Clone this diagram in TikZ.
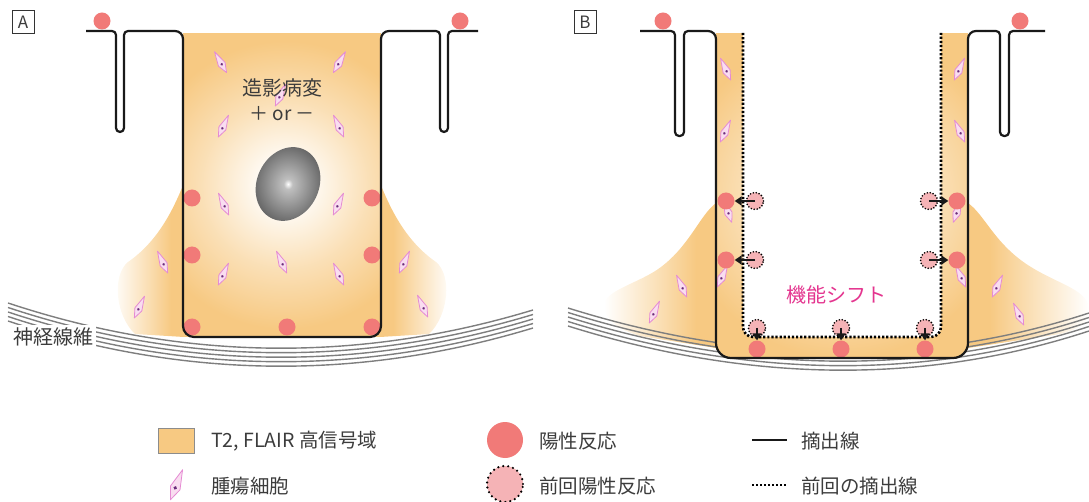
\documentclass[tikz,border=0pt]{standalone}
\usepackage{fontspec}
\setmainfont{Noto Sans CJK JP}
\usetikzlibrary{arrows.meta}

\definecolor{tfill}{HTML}{F7C982}
\definecolor{posred}{HTML}{F17A78}
\definecolor{prevpink}{HTML}{F5B3B6}
\definecolor{cellpink}{HTML}{E58BD3}
\definecolor{cellfill}{HTML}{F9DDF0}
\definecolor{cellcore}{HTML}{6A2C7A}
\definecolor{fibergray}{HTML}{7E7E7E}
\definecolor{shiftpink}{HTML}{E4358F}
\definecolor{txtgray}{HTML}{3C3C3C}

% soft glow of the high-signal area around the lesion
\pgfdeclareradialshading{cavityglow}{\pgfpoint{0bp}{0bp}}{color(0bp)=(white); color(5bp)=(white!88!tfill); color(14bp)=(tfill!58!white); color(24bp)=(tfill); color(50bp)=(tfill)}
% oedema fading out into the white matter
\pgfdeclarehorizontalshading{fadeleft}{100bp}{color(0bp)=(white); color(25bp)=(white); color(50bp)=(tfill!60!white); color(66bp)=(tfill); color(100bp)=(tfill)}
\pgfdeclarehorizontalshading{faderight}{100bp}{color(0bp)=(tfill); color(34bp)=(tfill); color(50bp)=(tfill!60!white); color(75bp)=(white); color(100bp)=(white)}
% the enhancing lesion
\pgfdeclareradialshading{lesionshade}{\pgfpoint{0bp}{0bp}}{color(0bp)=(white); color(3bp)=(black!25); color(25bp)=(black!62); color(50bp)=(black!62)}

% tumour cell: [scale] x, y, tilt
\newcommand\tumourcell[4][1]{%
  \begin{scope}[shift={(#2,#3)},rotate=#4,scale=#1]
    \filldraw[draw=cellpink, fill=cellfill, line width=0.8pt, line join=round]
      (0,-13) -- (3.8,1.5) -- (0,11) -- (-3.8,1.5) -- cycle;
    \fill[cellcore] (0,1.5) circle (1.4);
  \end{scope}}

\begin{document}
\begin{tikzpicture}[x=1pt,y=-1pt,
  posdot/.style={circle, fill=posred, minimum size=17pt, inner sep=0pt},
  prevdot/.style={circle, fill=prevpink, draw=black, line width=1.8pt,
    dash pattern=on 0pt off 3pt, line cap=round, minimum size=17pt, inner sep=0pt},
  surf/.style={draw=black!90, line width=2.2pt, line join=round},
  prevline/.style={draw=black, line width=2.6pt, dash pattern=on 2.2pt off 1.9pt},
  fiber/.style={draw=fibergray, line width=1.4pt},
  shiftarrow/.style={-{Triangle[length=7pt,width=9pt]}, draw=black!90, line width=2.8pt},
  txt/.style={text=txtgray, inner sep=1pt},
  panel/.style={draw=black!80, line width=0.6pt, text=txtgray, minimum width=22pt,
    minimum height=23pt, inner sep=0pt, font=\fontsize{17}{17}\selectfont},
  legtxt/.style={txt, anchor=west, font=\fontsize{19.5}{21}\selectfont}]
\useasboundingbox (0,0) rectangle (1089,502);

% ---------------- panel A ----------------
% oedema spreading along the fibres
\shade[shading=fadeleft] (184,183) .. controls (175,205) and (160,240) .. (128,262)
  .. controls (112,275) and (115,315) .. (135,334) -- (184,337) -- cycle;
\shade[shading=faderight] (380,183) .. controls (389,205) and (404,240) .. (436,262)
  .. controls (452,275) and (449,315) .. (429,334) -- (380,337) -- cycle;

% nerve fibres
\foreach \k in {0,...,4}
  \draw[fiber] (8,303+4.5*\k) .. controls (183,361+4.5*\k) and (358,363+4.5*\k) .. (533,310+4.5*\k);
\node[txt, fill=white, inner sep=3pt, font=\fontsize{20}{22}\selectfont] (fibres) at (53,337) {神経線維};

% resection cavity with T2/FLAIR signal
\begin{scope}
  \clip (183,33) rectangle (381,337);
  \fill[tfill] (183,33) rectangle (381,337);
  \shade[shading=cavityglow] (285,185) circle (150);
\end{scope}
\shade[shading=lesionshade, rotate around={-25:(288,184)}] (288,184) ellipse [x radius=31, y radius=38];

\foreach \x/\y/\a in {221/63/30, 339/63/-30, 280/96/-25, 223/127/-25, 339/127/25,
    224/205/25, 338/205/-25, 282/263/25, 223/275/-25, 339/275/25,
    163/263/25, 404/263/-25, 139/308/-25, 423/307/25}
  \tumourcell{\x}{\y}{\a};

\node[txt, font=\fontsize{20}{22}\selectfont] (lesion) at (282,88) {造影病変};
\node[txt, font=\fontsize{19}{21}\selectfont] (sign) at (282,114) {＋ or －};

\node[posdot] (a0) at (102,21) {};
\node[posdot] (a9) at (460,21) {};
\node[posdot] (a1) at (192,198) {};
\node[posdot] (a2) at (192,255) {};
\node[posdot] (a3) at (192,327) {};
\node[posdot] (a4) at (287,327) {};
\node[posdot] (a5) at (372,327) {};
\node[posdot] (a6) at (372,255) {};
\node[posdot] (a7) at (372,198) {};

% brain surface and resection line
\draw[surf, rounded corners=4pt] (86,31) -- (116,31) -- (116,132) -- (124,132) -- (124,31) -- (150,31);
\draw[surf, rounded corners=8pt] (150,31) -- (183,31) -- (183,200);
\draw[surf, rounded corners=11pt] (183,200) -- (183,337) -- (381,337) -- (381,200);
\draw[surf, rounded corners=8pt] (381,200) -- (381,31) -- (410,31);
\draw[surf, rounded corners=4pt] (410,31) -- (440,31) -- (440,132) -- (448,132) -- (448,31) -- (478,31);

\node[panel] (panelA) at (23,22) {A};

% ---------------- panel B ----------------
\shade[shading=fadeleft] (716,203) .. controls (700,215) and (690,245) .. (661,267)
  .. controls (640,283) and (605,290) .. (604,305) .. controls (604,320) and (620,330) .. (640,336)
  -- (716,348) -- cycle;
\shade[shading=faderight] (968,203) .. controls (985,215) and (995,245) .. (1031,267)
  .. controls (1060,285) and (1089,290) .. (1089,310) .. controls (1089,325) and (1075,330) .. (1060,334)
  -- (968,348) -- cycle;

\foreach \k in {0,...,4}
  \draw[fiber] (568,308+4.5*\k) .. controls (750,365+4.5*\k) and (924,367+4.5*\k) .. (1089,313+4.5*\k);

% band of residual signal between the old and the new resection line
\begin{scope}
  \clip (716,33) -- (716,343) arc[start angle=180, end angle=90, radius=15]
    -- (953,358) arc[start angle=90, end angle=0, radius=15] -- (968,33) -- cycle;
  \fill[tfill] (716,33) rectangle (968,358);
  \shade[shading=cavityglow] (842,195) circle (170);
\end{scope}
\fill[white] (743,30) -- (743,327) arc[start angle=180, end angle=90, radius=10]
  -- (931,337) arc[start angle=90, end angle=0, radius=10] -- (941,30) -- cycle;

\foreach \x/\y/\a in {726/70/25, 725/132/-25, 728/212/20, 722/277/-25, 682/287/25, 654/313/-25,
    959/70/-25, 960/132/25, 957/212/-20, 961/277/25, 997/287/-25, 1019/315/25}
  \tumourcell{\x}{\y}{\a};

\node[posdot] (b0) at (663,21) {};
\node[posdot] (b9) at (1020,21) {};
\node[posdot] (rL1) at (726,201) {};
\node[posdot] (rL2) at (726,260) {};
\node[posdot] (rR1) at (957,201) {};
\node[posdot] (rR2) at (957,260) {};
\node[posdot] (rB1) at (757,349) {};
\node[posdot] (rB2) at (841,349) {};
\node[posdot] (rB3) at (925,349) {};

% previous resection line
\draw[prevline] (743,33) -- (743,327) arc[start angle=180, end angle=90, radius=10]
  -- (931,337) arc[start angle=90, end angle=0, radius=10] -- (941,33);

\node[prevdot] (pL1) at (755,201) {};
\node[prevdot] (pL2) at (755,260) {};
\node[prevdot] (pR1) at (929,201) {};
\node[prevdot] (pR2) at (929,260) {};
\node[prevdot] (pB1) at (757,328) {};
\node[prevdot] (pB2) at (841,328) {};
\node[prevdot] (pB3) at (925,328) {};

\draw[shiftarrow] (pL1.center) -- (rL1.east);
\draw[shiftarrow] (pL2.center) -- (rL2.east);
\draw[shiftarrow] (pR1.center) -- (rR1.west);
\draw[shiftarrow] (pR2.center) -- (rR2.west);
\draw[shiftarrow] (pB1.center) -- (rB1.north);
\draw[shiftarrow] (pB2.center) -- (rB2.north);
\draw[shiftarrow] (pB3.center) -- (rB3.north);

\draw[surf, rounded corners=4pt] (640,31) -- (675,31) -- (675,136) -- (684,136) -- (684,31) -- (700,31);
\draw[surf, rounded corners=8pt] (700,31) -- (716,31) -- (716,200);
\draw[surf, rounded corners=15pt] (716,200) -- (716,358) -- (968,358) -- (968,200);
\draw[surf, rounded corners=8pt] (968,200) -- (968,31) -- (985,31);
\draw[surf, rounded corners=4pt] (985,31) -- (1000,31) -- (1000,136) -- (1009,136) -- (1009,31) -- (1045,31);

\node[text=shiftpink, inner sep=1pt, font=\fontsize{20}{22}\selectfont] (shift) at (836,295) {機能シフト};

\node[panel] (panelB) at (585,22) {B};

% ---------------- legend ----------------
\filldraw[fill=tfill, draw=black!45, line width=0.8pt] (158,428) rectangle (194,453);
\node[legtxt] (lgT2) at (210,441) {T2, FLAIR 高信号域};
\tumourcell[1.35]{176}{486}{-22}
\node[legtxt] (lgCell) at (210,486) {腫瘍細胞};

\node[posdot, minimum size=36pt] (lgPos) at (505,440) {};
\node[legtxt] (lgPosT) at (538,441) {陽性反応};
\node[prevdot, minimum size=36pt, line width=2.4pt, dash pattern=on 0pt off 5pt] (lgPrev) at (505,484) {};
\node[legtxt] (lgPrevT) at (538,486) {前回陽性反応};

\coordinate (lgL1a) at (752,440);
\coordinate (lgL1b) at (787,440);
\draw[draw=black!90, line width=2.4pt] (lgL1a) -- (lgL1b);
\node[legtxt] (lgCut) at (800,441) {摘出線};
\coordinate (lgL2a) at (752,485);
\coordinate (lgL2b) at (787,485);
\draw[prevline, line width=2pt, dash pattern=on 1.6pt off 2.4pt] (lgL2a) -- (lgL2b);
\node[legtxt] (lgPrevCut) at (800,486) {前回の摘出線};
\end{tikzpicture}
\end{document}
